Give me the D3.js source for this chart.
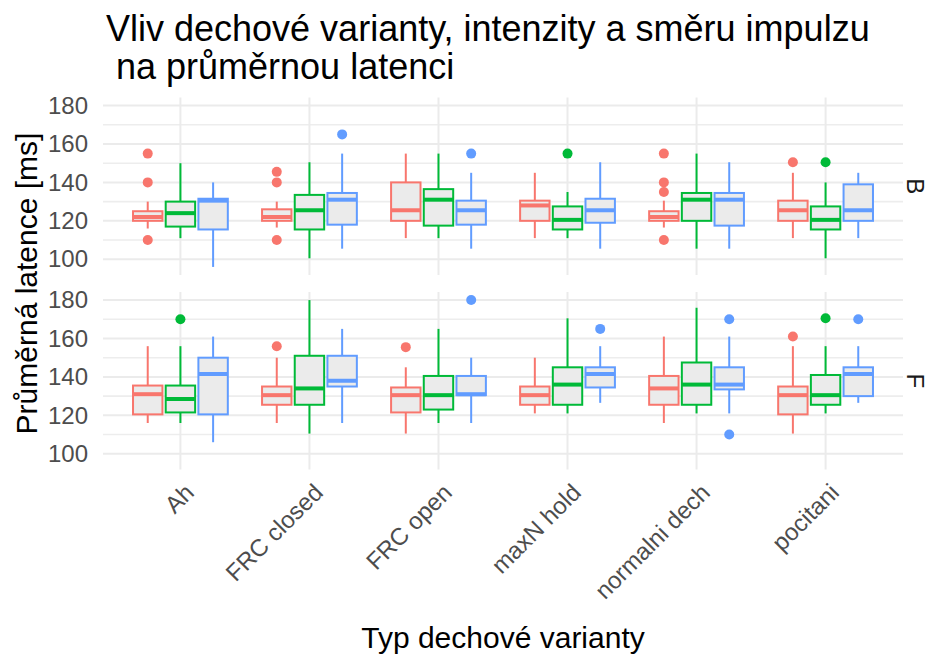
<!DOCTYPE html>
<html>
<head>
<meta charset="utf-8">
<script src="https://cdn.jsdelivr.net/npm/d3@7/dist/d3.min.js"></script>
<style>
  html, body { margin: 0; padding: 0; background: #ffffff; }
  svg { display: block; font-family: "Liberation Sans", Arial, sans-serif; }
</style>
</head>
<body>
<svg id="chart" width="931" height="655"></svg>
<script>
// Breathing variants on the x axis, facet rows, and the three colour groups
const categories = ["Ah", "FRC closed", "FRC open", "maxN hold", "normalni dech", "pocitani"];
const facets = ["B", "F"];
const groups = ["1", "2", "3"];
const groupColors = ["#F8766D", "#00BA38", "#619CFF"];
const yTicks = [100, 120, 140, 160, 180];
const yMinor = [110, 130, 150, 170];

// Box statistics per category: [lower whisker, Q1, median, Q3, upper whisker]
const statsB1 = [[116,120,122,125,130],[116.5,120,122,126,130],[111,120,125.5,140,155],[111,120,128,130.5,145],[116.5,120,122,125,130.5],[111,120,125.5,130.5,145]];
const statsB2 = [[111,117,124,130,150],[100.5,115.5,125.5,133.5,150.5],[111,117.5,131,136.5,155],[111,115.5,120.5,127.5,135],[105.5,120,131,134.5,155],[100.5,115.5,120.5,127.5,140]];
const statsB3 = [[96,115.5,130.5,131.5,140],[105.5,118,131,134.5,155],[105.5,118,125.5,130.5,145],[105.5,119,125.5,131.5,150.5],[105.5,117.5,131,134.5,150.5],[111,120,125.5,139,145]];
const statsF1 = [[116,120.5,131,135.5,156],[116,125.5,130.5,135,150],[110.5,121.5,130.5,134.5,145],[121,125.5,130.5,135,150],[116,125.5,134,140.5,161],[110.5,120.5,130.5,135,156]];
const statsF2 = [[116,121.5,128.5,135.5,156],[110.5,125.5,134,151,180],[116,123,130.5,140.5,165],[121,125.5,136,145,170.5],[121,125.5,136,147.5,176],[121,125.5,130.5,141,156]];
const statsF3 = [[106,120.5,141.5,150,161],[116,135,138,151,165],[116,130.5,131,140.5,150],[126.5,134.5,141.5,145,156],[121,133.5,136,145,161],[126.5,130,141.5,145,156]];

// Outlying observations per category
const outB1 = [[155,140,110],[145.5,140,110],[],[],[155,140,135,110],[150.5]];
const outB2 = [[],[],[],[155],[],[150.5]];
const outB3 = [[],[165],[155],[],[],[]];
const outF1 = [[],[156],[155.5],[],[],[161]];
const outF2 = [[170],[],[],[],[],[170.5]];
const outF3 = [[],[],[180],[165],[170,110],[170]];

const statsByFacet = { B: [statsB1, statsB2, statsB3], F: [statsF1, statsF2, statsF3] };
const outByFacet = { B: [outB1, outB2, outB3], F: [outF1, outF2, outF3] };

const svg = d3.select("#chart");
const font = '"Liberation Sans", Arial, sans-serif';

// Panel geometry
const panelLeft = 103, panelRight = 903;
const panelHeight = 177.5;
const panelTops = [97.5, 292];

// Shared y domain from the data, expanded by 5% on each side
const allVals = [];
facets.forEach(f => {
  statsByFacet[f].forEach(arr => arr.forEach(s => allVals.push(...s)));
  outByFacet[f].forEach(arr => arr.forEach(o => allVals.push(...o)));
});
const vMin = d3.min(allVals), vMax = d3.max(allVals);
const pad = (vMax - vMin) * 0.05;

const x = d3.scalePoint().domain(categories).range([panelLeft, panelRight]).padding(0.6);
const dodgeWidth = x.step() * 0.76;
const dodge = d3.scaleBand().domain(groups)
  .range([-dodgeWidth / 2, dodgeWidth / 2]).paddingInner(0.1).paddingOuter(0.05);

facets.forEach((facet, fi) => {
  const top = panelTops[fi];
  const y = d3.scaleLinear().domain([vMin - pad, vMax + pad]).range([top + panelHeight, top]);
  const g = svg.append("g");

  // Grid
  g.selectAll(".minor").data(yMinor).join("line")
    .attr("x1", panelLeft).attr("x2", panelRight)
    .attr("y1", d => y(d)).attr("y2", d => y(d))
    .attr("stroke", "#EDEDED").attr("stroke-width", 1.6);
  g.selectAll(".major").data(yTicks).join("line")
    .attr("x1", panelLeft).attr("x2", panelRight)
    .attr("y1", d => y(d)).attr("y2", d => y(d))
    .attr("stroke", "#EBEBEB").attr("stroke-width", 2);
  g.selectAll(".vgrid").data(categories).join("line")
    .attr("x1", d => x(d)).attr("x2", d => x(d))
    .attr("y1", top).attr("y2", top + panelHeight)
    .attr("stroke", "#EBEBEB").attr("stroke-width", 2);

  // Y axis tick labels
  const yAxis = d3.axisLeft(y).tickValues(yTicks).tickSize(0).tickPadding(0);
  const ya = svg.append("g").attr("transform", `translate(${panelLeft - 15},0)`).call(yAxis);
  ya.select(".domain").remove();
  ya.selectAll("text")
    .attr("font-family", font).attr("font-size", 24).attr("fill", "#4D4D4D");

  // Boxplots
  groups.forEach((grp, gi) => {
    const color = groupColors[gi];
    const stats = statsByFacet[facet][gi];
    const outs = outByFacet[facet][gi];
    const bw = dodge.bandwidth();
    categories.forEach((cat, ci) => {
      const [lo, q1, med, q3, hi] = stats[ci];
      const cx = x(cat) + dodge(grp) + bw / 2;
      const bg = g.append("g");
      bg.append("line").attr("x1", cx).attr("x2", cx).attr("y1", y(q3)).attr("y2", y(hi))
        .attr("stroke", color).attr("stroke-width", 2);
      bg.append("line").attr("x1", cx).attr("x2", cx).attr("y1", y(q1)).attr("y2", y(lo))
        .attr("stroke", color).attr("stroke-width", 2);
      bg.append("rect").attr("x", cx - bw / 2).attr("width", bw)
        .attr("y", y(q3)).attr("height", y(q1) - y(q3))
        .attr("fill", "#EBEBEB").attr("stroke", color).attr("stroke-width", 2);
      bg.append("line").attr("x1", cx - bw / 2).attr("x2", cx + bw / 2)
        .attr("y1", y(med)).attr("y2", y(med))
        .attr("stroke", color).attr("stroke-width", 4);
      bg.selectAll("circle").data(outs[ci]).join("circle")
        .attr("cx", cx).attr("cy", d => y(d)).attr("r", 5).attr("fill", color);
    });
  });

  // Facet strip label on the right
  svg.append("text")
    .attr("transform", `translate(907,${top + panelHeight / 2}) rotate(90)`)
    .attr("text-anchor", "middle")
    .attr("font-family", font).attr("font-size", 24).attr("fill", "#1A1A1A")
    .text(facet);
});

// X axis labels, rotated 45 degrees
const xa = svg.append("g");
xa.selectAll("text").data(categories).join("text")
  .attr("transform", d => `translate(${x(d) + 15},494) rotate(-45)`)
  .attr("text-anchor", "end")
  .attr("font-family", font).attr("font-size", 24).attr("fill", "#4D4D4D")
  .text(d => d);

// Axis titles
svg.append("text")
  .attr("x", (panelLeft + panelRight) / 2).attr("y", 648)
  .attr("text-anchor", "middle")
  .attr("font-family", font).attr("font-size", 30).attr("fill", "#000")
  .text("Typ dechové varianty");

svg.append("text")
  .attr("transform", `translate(37,${(panelTops[0] + panelTops[1] + panelHeight) / 2}) rotate(-90)`)
  .attr("text-anchor", "middle")
  .attr("font-family", font).attr("font-size", 30).attr("fill", "#000")
  .text("Průměrná latence [ms]");

// Plot title (two lines)
const title = svg.append("text")
  .attr("x", 106).attr("y", 41)
  .attr("font-family", font).attr("font-size", 36).attr("fill", "#000")
  .style("white-space", "pre");
title.append("tspan").attr("x", 106).attr("y", 41).text("Vliv dechové varianty, intenzity a směru impulzu");
title.append("tspan").attr("x", 106).attr("y", 79).text(" na průměrnou latenci");
</script>
</body>
</html>
